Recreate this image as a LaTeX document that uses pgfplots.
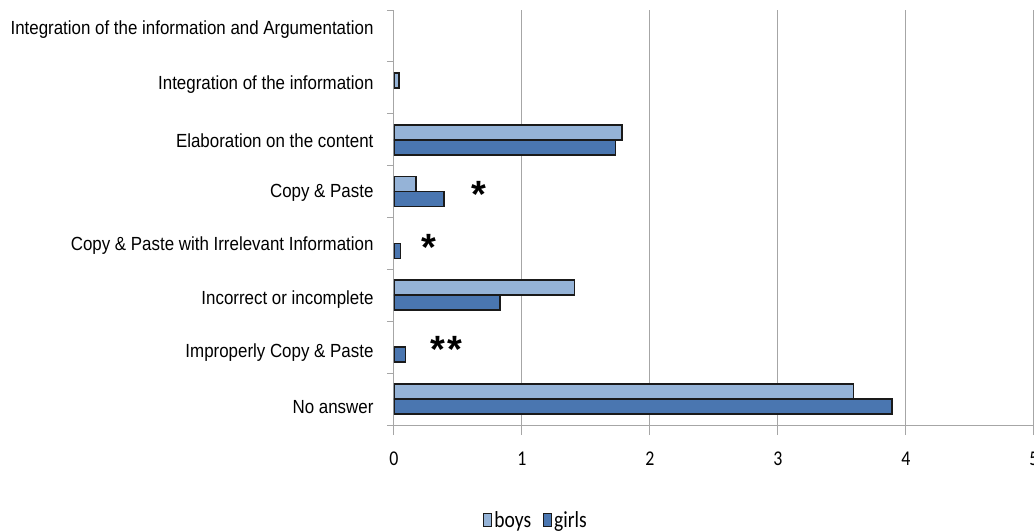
\documentclass[border=0pt]{standalone}
\usepackage{fontspec}
\setmainfont{Liberation Sans}
\newfontfamily\labfont[FakeStretch=0.89]{Liberation Sans}
\newfontfamily\calfont[FakeStretch=0.85]{Carlito}
\usepackage{pgfplots}
\pgfplotsset{compat=1.18}
\definecolor{boyscol}{HTML}{95B3D7}
\definecolor{girlscol}{HTML}{4A76B0}
\definecolor{gridgray}{HTML}{A6A6A6}
\definecolor{edge}{HTML}{1A1A1A}

\begin{document}
\begin{tikzpicture}
\begin{axis}[
  scale only axis, width=640pt, height=415pt,
  xmin=0, xmax=5, ymin=-0.5, ymax=7.5,
  xbar, bar width=15pt,
  axis lines*=left,
  axis line style={gridgray, line width=1pt},
  xtick={0,...,5},
  xmajorgrids, grid style={gridgray, line width=1pt},
  % label positions slightly spread compared with the category centres, as in the original
  ytick={-0.153,0.888,1.91,2.95,3.97,4.99,6.07,7.12},
  yticklabels={No answer, Improperly Copy \& Paste, Incorrect or incomplete,
    Copy \& Paste with Irrelevant Information, Copy \& Paste,
    Elaboration on the content, Integration of the information,
    Integration of the information and Argumentation},
  minor ytick={-0.5,0.5,...,7.5},
  tick align=outside,
  major tick length=10pt, minor tick length=7pt,
  tick style={gridgray, line width=1pt},
  major y tick style={draw=none},
  xticklabel style={font=\calfont\fontsize{21}{21}\selectfont, yshift=-13pt},
  yticklabel style={font=\labfont\fontsize{19}{19}\selectfont, xshift=-7pt},
  /pgf/number format/assume math mode=true,
  legend style={at={(0.222,-0.229)}, anchor=center, draw=none,
    font=\calfont\fontsize{23}{23}\selectfont, legend columns=2,
    /tikz/every even column/.append style={column sep=10pt}},
  legend image code/.code={\draw[#1, draw=edge, line width=1pt] (0pt,-6.5pt) rectangle (8pt,6.5pt);},
]
\addplot[draw=edge, line width=1.7pt, fill=boyscol, bar shift=7.5pt]
  coordinates {(3.59,0) (1.41,2) (0.17,4) (1.78,5) (0.04,6)};
\addplot[draw=edge, line width=1.7pt, fill=girlscol, bar shift=-7.5pt]
  coordinates {(3.89,0) (0.09,1) (0.83,2) (0.05,3) (0.39,4) (1.73,5)};
\legend{boys, girls}
\node[font=\bfseries\fontsize{38}{38}\selectfont] at (axis cs:0.66,3.95) {*};
\node[font=\bfseries\fontsize{38}{38}\selectfont] at (axis cs:0.27,2.93) {*};
\node[font=\bfseries\fontsize{38}{38}\selectfont] at (axis cs:0.41,0.96) {*\hspace{3pt}*};
\end{axis}
\pgfresetboundingbox
\useasboundingbox (-394pt,-106pt) rectangle (640pt,425pt);
\end{tikzpicture}
\end{document}
